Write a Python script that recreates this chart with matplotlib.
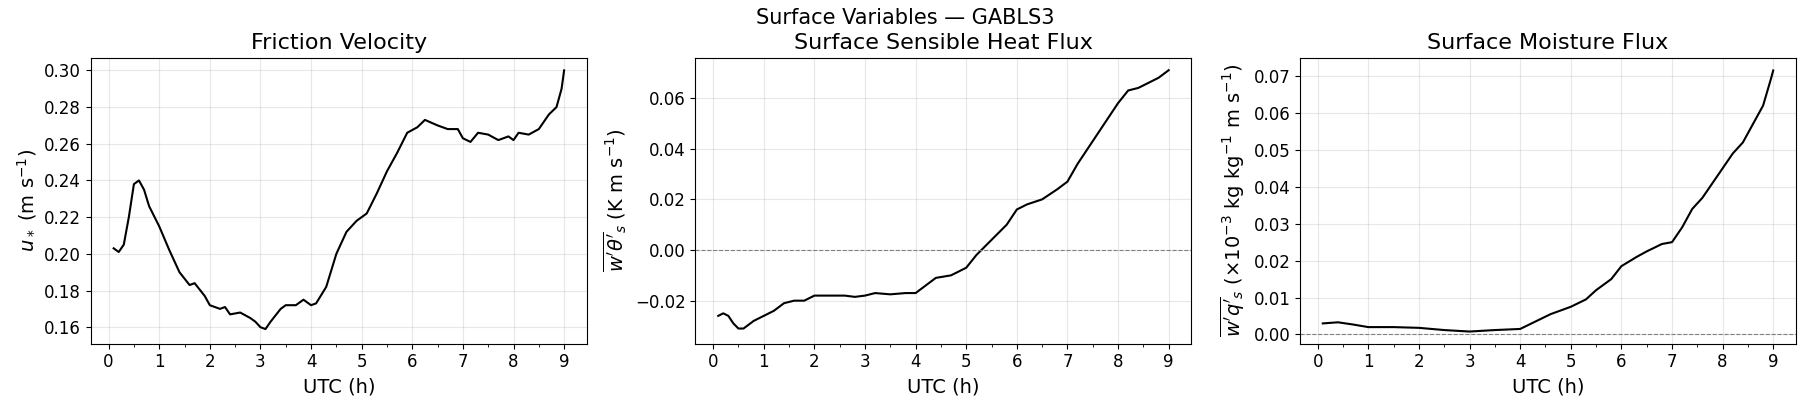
import matplotlib
matplotlib.use("Agg")
import matplotlib.pyplot as plt
from matplotlib.ticker import MultipleLocator

t1 = [0.1,0.2,0.3,0.4,0.5,0.6,0.7,0.8,1.0,1.2,1.4,1.6,1.7,1.9,2.0,2.2,2.3,2.4,2.6,2.8,2.9,3.0,3.1,3.2,3.4,3.5,3.7,3.85,4.0,4.1,4.3,4.5,4.7,4.9,5.1,5.3,5.5,5.7,5.9,6.1,6.25,6.5,6.7,6.9,7.0,7.15,7.3,7.5,7.7,7.9,8.0,8.1,8.3,8.5,8.7,8.85,8.95,9.0]
ustar = [.203,.201,.205,.22,.238,.240,.235,.226,.215,.202,.190,.183,.184,.177,.172,.170,.171,.167,.168,.165,.163,.160,.159,.163,.170,.172,.172,.175,.172,.173,.182,.200,.212,.218,.222,.233,.245,.255,.266,.269,.273,.270,.268,.268,.263,.261,.266,.265,.262,.264,.262,.266,.265,.268,.276,.280,.290,.300]

t2 = [0.1,0.2,0.3,0.4,0.5,0.6,0.8,1.0,1.2,1.4,1.6,1.8,2.0,2.2,2.4,2.6,2.8,3.0,3.2,3.5,3.8,4.0,4.2,4.4,4.7,5.0,5.2,5.5,5.8,6.0,6.2,6.5,6.8,7.0,7.2,7.5,7.8,8.0,8.2,8.4,8.6,8.8,9.0]
heat = [-.026,-.025,-.026,-.029,-.031,-.031,-.028,-.026,-.024,-.021,-.020,-.020,-.018,-.018,-.018,-.018,-.0185,-.018,-.017,-.0175,-.017,-.017,-.014,-.011,-.010,-.007,-.002,.004,.010,.016,.018,.020,.024,.027,.034,.043,.052,.058,.063,.064,.066,.068,.071]

t3 = [0.1,0.4,0.7,1.0,1.5,2.0,2.5,3.0,3.5,4.0,4.3,4.6,5.0,5.3,5.5,5.8,6.0,6.3,6.5,6.8,7.0,7.2,7.4,7.6,7.8,8.0,8.2,8.4,8.6,8.8,8.95,9.0]
moist = [.003,.0033,.0027,.002,.002,.0018,.0012,.0008,.0012,.0015,.0035,.0055,.0075,.0095,.012,.015,.0185,.021,.0225,.0245,.025,.029,.034,.037,.041,.045,.049,.052,.057,.062,.069,.0715]

fig, axes = plt.subplots(1, 3, figsize=(18.11, 4.11), dpi=100)
fig.suptitle("Surface Variables — GABLS3", fontsize=15)
specs = [
    (t1, ustar, "Friction Velocity", r"$u_*$ (m s$^{-1}$)", False),
    (t2, heat, "Surface Sensible Heat Flux", r"$\overline{w'\theta'}_s$ (K m s$^{-1}$)", True),
    (t3, moist, "Surface Moisture Flux", r"$\overline{w'q'}_s$ ($\times10^{-3}$ kg kg$^{-1}$ m s$^{-1}$)", True),
]
for ax, (t, y, title, yl, zero) in zip(axes, specs):
    ax.plot(t, y, color="black", lw=1.5)
    if zero:
        ax.axhline(0, color="gray", ls="--", lw=0.8)
    ax.set_title(title, fontsize=16)
    ax.set_xlabel("UTC (h)", fontsize=14)
    ax.set_ylabel(yl, fontsize=14)
    ax.set_xticks(range(10))
    ax.xaxis.set_minor_locator(MultipleLocator(0.5))
    ax.tick_params(labelsize=12)
    ax.grid(True, alpha=0.3)
    ax.set_xlim(-0.35, 9.45)
axes[0].set_ylim(0.151, 0.307)
axes[1].set_ylim(-0.037, 0.076)
axes[2].set_ylim(-0.0025, 0.075)
fig.tight_layout()
fig.subplots_adjust(top=0.86)
fig.savefig("out.png")
